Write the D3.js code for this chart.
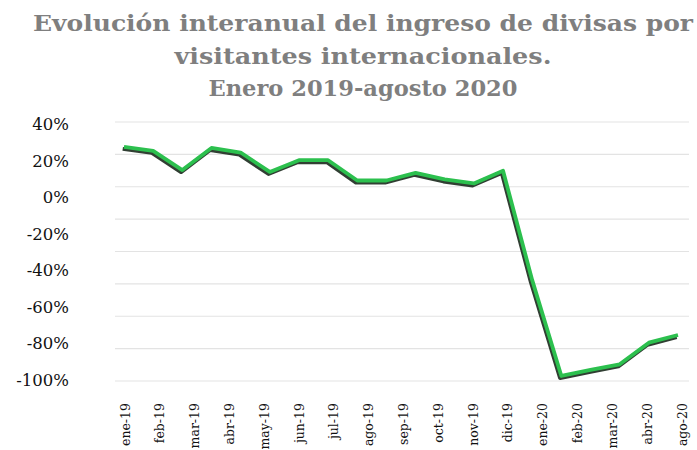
<!DOCTYPE html>
<html>
<head>
<meta charset="utf-8">
<script src="https://cdn.jsdelivr.net/npm/d3@7"></script>
<style>
body { margin: 0; background: #fff; }
svg { display: block; }
</style>
</head>
<body>
<div id="chart"></div>
<script>
// months of the series (ene-19 .. ago-20)
var months = ["2019-01", "2019-02", "2019-03", "2019-04", "2019-05", "2019-06",
    "2019-07", "2019-08", "2019-09", "2019-10", "2019-11", "2019-12",
    "2020-01", "2020-02", "2020-03", "2020-04", "2020-05", "2020-06",
    "2020-07", "2020-08"];

// year-on-year change, %
var values = [27.5, 25.3, 14.8, 26.9, 24.4, 13.8, 20.2, 20.2, 9.1, 9.1,
    13.3, 9.7, 7.5, 14.4, -45.4, -97.8, -94.5, -91.4, -79.6, -75.4];

// category labels as printed on the axis
var xLabels = ["ene-19", "feb-19", "mar-19", "abr-19", "may-19", "jun-19",
    "jul-19", "ago-19", "sep-19", "oct-19", "nov-19", "dic-19",
    "ene-20", "feb-20", "mar-20", "abr-20", "ago-20"];

var yTicks = [40, 20, 0, -20, -40, -60, -80, -100];
var gridTicks = [60, 40, 20, 0, -20, -40, -60, -80, -100];

var titleLines = ["Evolución interanual del ingreso de divisas por",
    "visitantes internacionales.",
    "Enero 2019-agosto 2020"];

var W = 697, H = 450;
var plot = { left: 115, right: 689 };

var svg = d3.select("#chart").append("svg")
    .attr("width", W)
    .attr("height", H);

// scales
var x = d3.scalePoint().domain(months).range([124, 678]);
var xLab = d3.scalePoint().domain(xLabels).range([125, 682]);
var y = d3.scaleLinear().domain([-100, 40]).range([380, 124]);
var yGrid = d3.scaleLinear().domain([-100, 60]).range([381, 122]);

// title
var titleWidths = [660, 377, 309];
var titleY = [31, 64, 96];
svg.append("g").attr("class", "title")
    .selectAll("text")
    .data(titleLines)
    .enter().append("text")
    .attr("x", 363)
    .attr("y", function(d, i) { return titleY[i]; })
    .attr("text-anchor", "middle")
    .attr("textLength", function(d, i) { return titleWidths[i]; })
    .attr("lengthAdjust", "spacingAndGlyphs")
    .style("font-family", "'DejaVu Serif', serif")
    .style("font-weight", "bold")
    .style("font-size", "22px")
    .style("fill", "#7f7f7f")
    .text(function(d) { return d; });

// gridlines
svg.append("g").attr("class", "grid")
    .selectAll("line")
    .data(gridTicks)
    .enter().append("line")
    .attr("x1", plot.left)
    .attr("x2", plot.right)
    .attr("y1", function(d) { return yGrid(d); })
    .attr("y2", function(d) { return yGrid(d); })
    .style("stroke", "#e3e3e3")
    .style("stroke-width", 1.2);

// y labels
svg.append("g").attr("class", "y-labels")
    .selectAll("text")
    .data(yTicks)
    .enter().append("text")
    .attr("x", 69)
    .attr("y", function(d) { return y(d); })
    .attr("dy", "0.36em")
    .attr("text-anchor", "end")
    .style("font-family", "'DejaVu Serif', serif")
    .style("font-size", "16.5px")
    .style("fill", "#111")
    .text(function(d) { return d + "%"; });

// x labels (rotated)
svg.append("g").attr("class", "x-labels")
    .selectAll("text")
    .data(xLabels)
    .enter().append("text")
    .attr("transform", function(d) {
        return "translate(" + xLab(d) + ",403)rotate(-90)";
    })
    .attr("dy", "0.36em")
    .attr("text-anchor", "end")
    .style("font-family", "'DejaVu Serif', serif")
    .style("font-size", "12.5px")
    .style("fill", "#111")
    .text(function(d) { return d; });

// line with a dark shadow
var line = d3.line()
    .x(function(d, i) { return x(months[i]); })
    .y(function(d) { return y(d); });

svg.append("path")
    .datum(values)
    .attr("d", line)
    .attr("transform", "translate(-1.3,2)")
    .style("fill", "none")
    .style("stroke", "#1b2a1d")
    .style("stroke-width", 4)
    .style("stroke-linejoin", "round")
    .style("opacity", 0.9);

svg.append("path")
    .datum(values)
    .attr("d", line)
    .style("fill", "none")
    .style("stroke", "#2cc04e")
    .style("stroke-width", 3.8)
    .style("stroke-linejoin", "round");
</script>
</body>
</html>
